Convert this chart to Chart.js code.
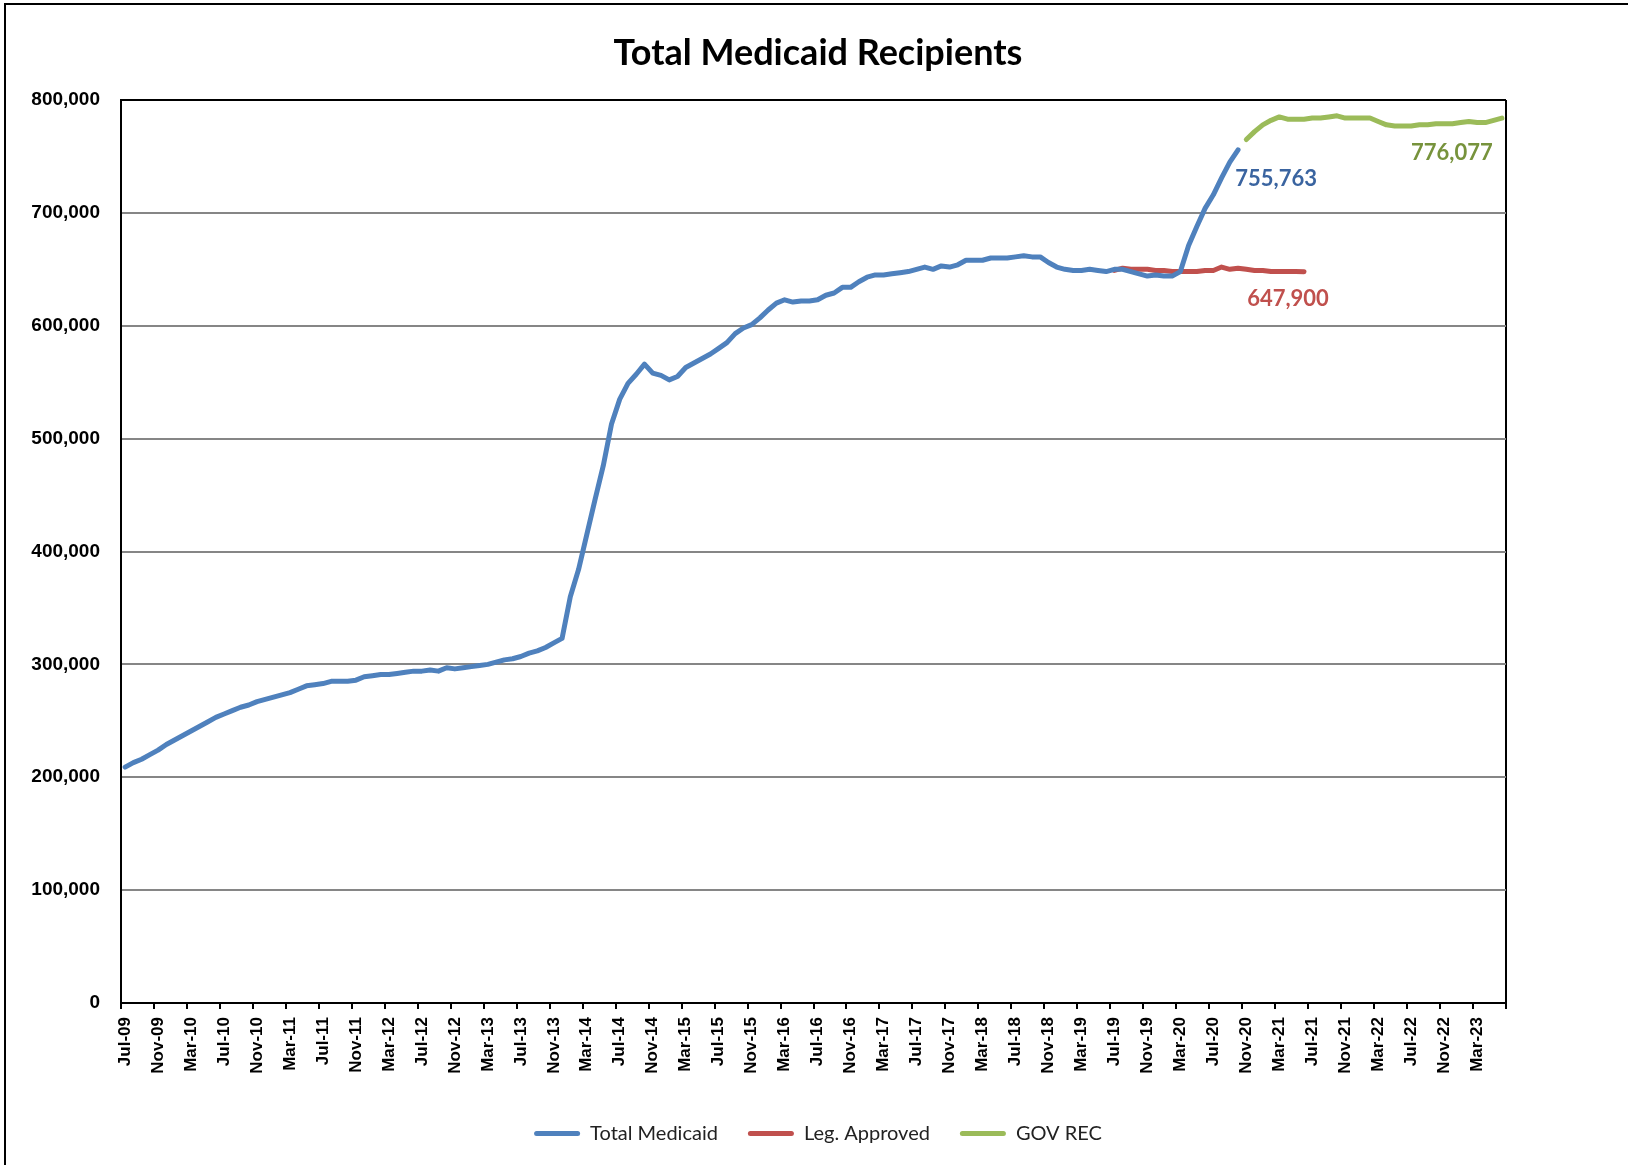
<!DOCTYPE html>
<html><head><meta charset="utf-8">
<script src="https://cdn.jsdelivr.net/npm/chart.js@4.4.0/dist/chart.umd.min.js"></script>
<style>
html,body{margin:0;padding:0;background:#fff;width:1628px;height:1165px;overflow:hidden;}
#frame{position:absolute;left:4px;top:3px;width:1700px;height:1300px;border:2px solid #000;background:#fff;}
#c{position:absolute;left:0;top:0;}
</style></head><body>
<div id="frame"></div>
<canvas id="c" width="1628" height="1165"></canvas>
<script>
// ---- categories (monthly, Jul-09 .. Jun-23) ----
const MONTH_NAMES = ['Jan','Feb','Mar','Apr','May','Jun','Jul','Aug','Sep','Oct','Nov','Dec'];
const categories = [];
for (let k = 0; k < 168; k++) {
  const m = (6 + k) % 12;
  const yr = 9 + Math.floor((6 + k) / 12);
  categories.push(MONTH_NAMES[m] + '-' + String(yr).padStart(2, '0'));
}

// ---- series values ----
const totalMedicaidStart = 'Jul-09';
const totalMedicaidValues = [
  209000,213000,216000,220000,224000,229000,233000,237000,241000,245000,
  249000,253000,256000,259000,262000,264000,267000,269000,271000,273000,
  275000,278000,281000,282000,283000,285000,285000,285000,286000,289000,
  290000,291000,291000,292000,293000,294000,294000,295000,294000,297000,
  296000,297000,298000,299000,300000,302000,304000,305000,307000,310000,
  312000,315000,319000,323000,360000,384000,415000,446000,476000,513000,
  535000,549000,557000,566000,558000,556000,552000,555000,563000,567000,
  571000,575000,580000,585000,593000,598000,601000,607000,614000,620000,
  623000,621000,622000,622000,623000,627000,629000,634000,634000,639000,
  643000,645000,645000,646000,647000,648000,650000,652000,650000,653000,
  652000,654000,658000,658000,658000,660000,660000,660000,661000,662000,
  661000,661000,656000,652000,650000,649000,649000,650000,649000,648000,
  650000,650000,648000,646000,644000,645000,644000,644000,648000,671000,
  688000,704000,716000,731000,745000,755763
];
const legApprovedStart = 'Jul-19';
const legApprovedValues = [
  649000,651000,650000,650000,650000,649000,649000,648000,648000,648000,
  648000,649000,649000,652000,650000,651000,650000,649000,649000,648000,
  648000,648000,648000,647900
];
const govRecStart = 'Nov-20';
const govRecValues = [
  765000,772000,778000,782000,785000,783000,783000,783000,784000,784000,
  785000,786000,784000,784000,784000,784000,781000,778000,777000,777000,
  777000,778000,778000,779000,779000,779000,780000,781000,780000,780000,
  782000,784000
];
const govRecLabel = '776,077';

// ---- y-axis ticks ----
const yTicks = [0,100000,200000,300000,400000,500000,600000,700000,800000];

function padSeries(start, values) {
  const out = new Array(categories.length).fill(null);
  const s = categories.indexOf(start);
  values.forEach((v, i) => { out[s + i] = v; });
  return out;
}

const BLUE = '#4F81BD', RED = '#C0504D', GREEN = '#9BBB59';
const fmt = v => Math.round(v).toLocaleString('en-US');

const endLabelPlugin = {
  id: 'endLabels',
  afterDatasetsDraw(chart) {
    const ctx = chart.ctx;
    const items = [
      {ds: 0, text: fmt(totalMedicaidValues[totalMedicaidValues.length - 1]), color: '#3A64A0', dx: 38, dy: 29},
      {ds: 1, text: fmt(legApprovedValues[legApprovedValues.length - 1]), color: '#C0504D', dx: -16, dy: 27},
      {ds: 2, text: govRecLabel, color: '#77933C', dx: -50, dy: 35}
    ];
    ctx.save();
    ctx.font = 'bold 22px Lato, "Open Sans", sans-serif';
    ctx.textAlign = 'center';
    ctx.textBaseline = 'middle';
    items.forEach(it => {
      const meta = chart.getDatasetMeta(it.ds);
      const data = chart.data.datasets[it.ds].data;
      let last = -1;
      data.forEach((v, i) => { if (v !== null) last = i; });
      const pt = meta.data[last];
      ctx.fillStyle = it.color;
      ctx.fillText(it.text, pt.x + it.dx, pt.y + it.dy);
    });
    ctx.restore();
  }
};

const lineCommon = {
  borderWidth: 5, pointRadius: 0, pointHoverRadius: 0, tension: 0,
  borderCapStyle: 'round', borderJoinStyle: 'round', spanGaps: false, fill: false
};

new Chart(document.getElementById('c'), {
  type: 'line',
  data: {
    labels: categories,
    datasets: [
      Object.assign({label: 'Total Medicaid', data: padSeries(totalMedicaidStart, totalMedicaidValues), borderColor: BLUE, backgroundColor: BLUE}, lineCommon),
      Object.assign({label: 'Leg. Approved', data: padSeries(legApprovedStart, legApprovedValues), borderColor: RED, backgroundColor: RED}, lineCommon),
      Object.assign({label: 'GOV REC', data: padSeries(govRecStart, govRecValues), borderColor: GREEN, backgroundColor: GREEN}, lineCommon)
    ]
  },
  options: {
    responsive: false,
    animation: false,
    devicePixelRatio: 1,
    layout: {padding: {left: 8, right: 0, top: 0, bottom: 11.5}},
    plugins: {
      title: {
        display: true,
        text: 'Total Medicaid Recipients',
        color: '#000',
        font: {family: 'Lato, "Open Sans", sans-serif', weight: 'bold', size: 36, lineHeight: 1.2},
        padding: {top: 31.4, bottom: 25.4}
      },
      legend: {
        position: 'bottom',
        labels: {
          boxWidth: 46, boxHeight: 5, padding: 30, color: '#222',
          font: {family: 'Lato, "Open Sans", sans-serif', size: 20},
          generateLabels(chart) {
            return Chart.defaults.plugins.legend.labels.generateLabels(chart)
              .map(l => Object.assign(l, {lineWidth: 0, borderRadius: 2.5}));
          }
        }
      },
      tooltip: {enabled: false}
    },
    scales: {
      x: {
        type: 'category',
        offset: true,
        grid: {
          offset: true,
          drawOnChartArea: true,
          lineWidth: 2,
          color: c => (c.type !== 'tick') ? '#000' : 'rgba(0,0,0,0)',
          tickColor: c => (c.type !== 'tick' || c.index % 4 === 0) ? '#000' : 'rgba(0,0,0,0)',
          tickWidth: 2,
          tickLength: 6
        },
        border: {color: '#000', width: 2},
        ticks: {
          autoSkip: false, maxRotation: 90, minRotation: 90, padding: 8, color: '#000',
          font: {family: '"Liberation Sans", Arial, sans-serif', weight: 'bold', size: 17},
          callback: function(val, idx) { return idx % 4 === 0 ? this.getLabelForValue(val) : ''; }
        },
        afterFit: s => { s.height = 90.5; }
      },
      y: {
        min: 0, max: 800000,
        afterBuildTicks: s => { s.ticks = yTicks.map(v => ({value: v})); },
        grid: {
          lineWidth: 2, drawTicks: false,
          color: c => (c.tick && (c.tick.value === 800000 || c.tick.value === 0)) ? '#000' : '#868686'
        },
        border: {color: '#000', width: 2},
        ticks: {
          padding: 21, color: '#000',
          font: {family: '"Liberation Sans", Arial, sans-serif', weight: 'bold', size: 19},
          callback: v => fmt(v)
        },
        afterFit: s => { s.width = 113; }
      },
      yRight: {
        position: 'right', display: true,
        grid: {display: false}, border: {display: false}, ticks: {display: false},
        afterFit: s => { s.width = 122; }
      }
    }
  },
  plugins: [endLabelPlugin]
});
</script>
</body></html>
